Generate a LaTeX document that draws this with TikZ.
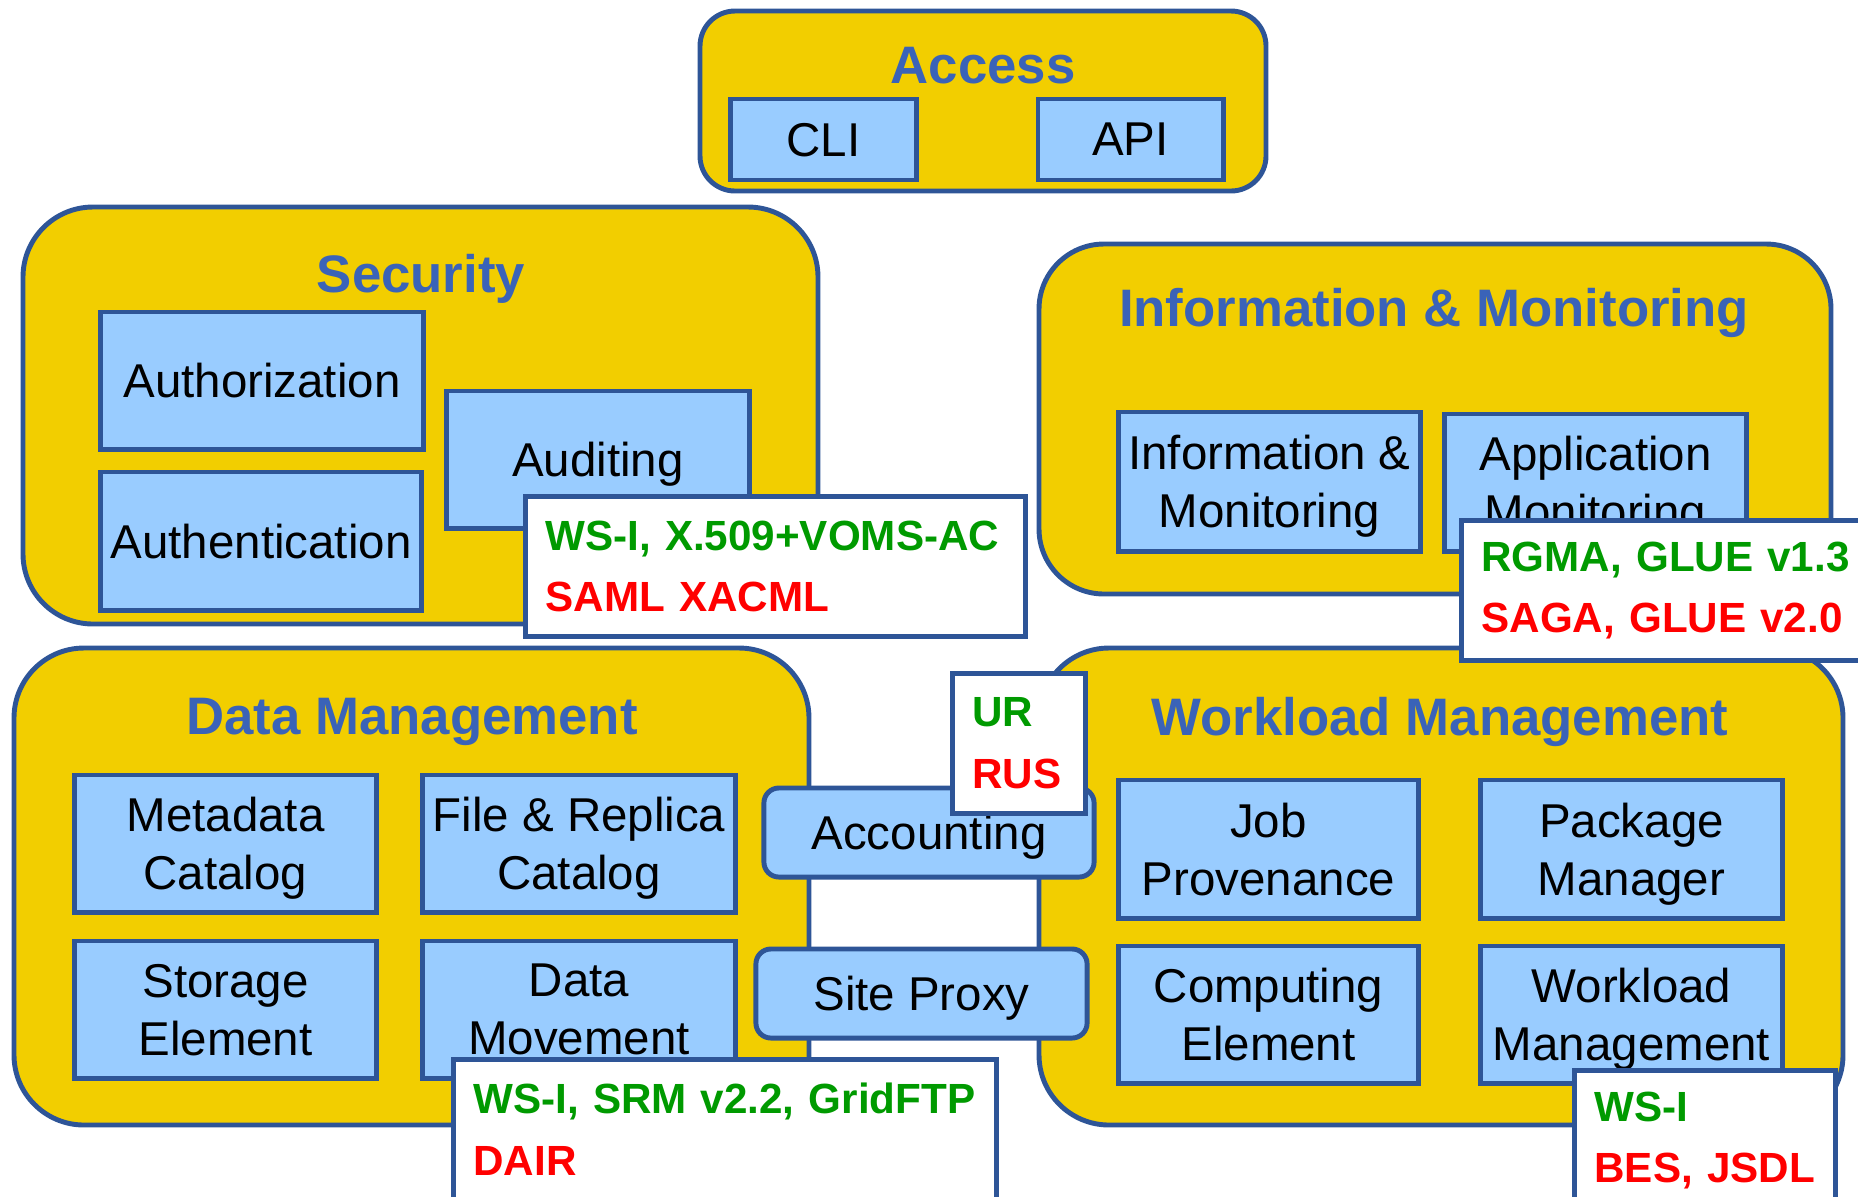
\documentclass[tikz,border=0pt]{standalone}
\usepackage{fontspec}
\setmainfont{Liberation Sans}

\definecolor{grpyellow}{RGB}{242,206,0}
\definecolor{edgeblue}{RGB}{46,85,151}
\definecolor{headblue}{RGB}{58,99,184}
\definecolor{boxblue}{RGB}{153,204,255}
\definecolor{stdgreen}{RGB}{0,154,0}
\definecolor{stdred}{RGB}{255,0,0}

\tikzset{
	group/.style={fill=grpyellow,draw=edgeblue,line width=1.4pt},
	grouptitle/.style={text=headblue,text depth=0pt,font=\bfseries\fontsize{15}{18}\selectfont},
	comp/.style={rectangle,fill=boxblue,draw=edgeblue,line width=1.4pt,inner sep=0pt,text depth=0pt,
		align=center,minimum width=3.01cm,minimum height=1.37cm,font=\fontsize{13.5}{16.5}\selectfont},
	pill/.style={comp,rounded corners=0.15cm,minimum width=3.3cm,minimum height=0.89cm},
	note/.style={rectangle,fill=white,draw=edgeblue,line width=1.4pt,anchor=north west,
		inner xsep=0.2cm,text width=#1,minimum height=1.4cm,align=left,font=\bfseries\fontsize{12}{17.6}\selectfont}
}

\begin{document}
\begin{tikzpicture}[x=0.01cm,y=-0.01cm]
	\path[use as bounding box] (0,0) rectangle (1858,1196);
	\clip (0,0) rectangle (1858,1196);

	% group frames
	\draw[group,rounded corners=0.35cm] (700,11) rectangle (1266,191);     % access
	\draw[group,rounded corners=0.7cm] (23,207) rectangle (818,624);       % security
	\draw[group,rounded corners=0.65cm] (1039,244) rectangle (1831,594);   % info & monitoring
	\draw[group,rounded corners=0.7cm] (14,648) rectangle (809,1125);      % data management
	\draw[group,rounded corners=0.7cm] (1039,648) rectangle (1843,1125);   % workload management

	% group titles
	\node[grouptitle] (accesstitle) at (983,65) {Access};
	\node[grouptitle] (sectitle) at (421,273) {Security};
	\node[grouptitle] (infotitle) at (1434,307) {Information \& Monitoring};
	\node[grouptitle] (datatitle) at (412,716) {Data Management};
	\node[grouptitle] (wmstitle) at (1440,716) {Workload Management};

	% access
	\node[comp,minimum width=1.85cm,minimum height=0.81cm] (cli) at (823.5,139.5) {CLI};
	\node[comp,minimum width=1.85cm,minimum height=0.81cm] (api) at (1130.5,139.5) {API};

	% security
	\node[comp,minimum width=3.22cm] (authz) at (262,380.5) {Authorization};
	\node[comp,minimum width=3.02cm] (audit) at (598,459.5) {Auditing};
	\node[comp,minimum width=3.2cm,minimum height=1.38cm] (authn) at (261,541) {Authentication};

	% information & monitoring
	\node[comp,minimum height=1.39cm] (infomon) at (1269.5,481.5) {Information \&\\Monitoring};
	\node[comp] (appmon) at (1595.5,482.5) {Application\\Monitoring};

	% data management
	\node[comp] (metacat) at (225.5,843.5) {Metadata\\Catalog};
	\node[comp,minimum width=3.12cm] (filecat) at (579,843.5) {File \& Replica\\Catalog};
	\node[comp] (storage) at (225.5,1009.5) {Storage\\Element};
	\node[comp,minimum width=3.12cm] (datamove) at (579,1009.5) {Data\\Movement};

	% workload management
	\node[comp,minimum width=2.99cm,minimum height=1.38cm] (jobprov) at (1268.5,849) {Job\\Provenance};
	\node[comp,minimum height=1.38cm] (pkgman) at (1631.5,849) {Package\\Manager};
	\node[comp,minimum width=2.99cm] (compel) at (1268.5,1014.5) {Computing\\Element};
	\node[comp] (wmsbox) at (1631.5,1014.5) {Workload\\Management};

	% shared services
	\node[pill] (account) at (929,832.5) {Accounting};
	\node[pill,minimum width=3.31cm] (siteproxy) at (921.5,993.5) {Site Proxy};

	% standards notes
	\node[note=4.6cm] (secnote) at (523,494) {\textcolor{stdgreen}{WS-I, X.509+VOMS-AC}\\\textcolor{stdred}{SAML XACML}};
	\node[note=3.8cm] (infonote) at (1459,518) {\textcolor{stdgreen}{RGMA, GLUE v1.3}\\\textcolor{stdred}{SAGA, GLUE v2.0}};
	\node[note=0.93cm] (accnote) at (950,671) {\textcolor{stdgreen}{UR}\\\textcolor{stdred}{RUS}};
	\node[note=5.03cm] (datanote) at (451,1057) {\textcolor{stdgreen}{WS-I, SRM v2.2, GridFTP}\\\textcolor{stdred}{DAIR}};
	\node[note=2.21cm] (wmsnote) at (1572,1068) {\textcolor{stdgreen}{WS-I}\\\textcolor{stdred}{BES, JSDL}};
\end{tikzpicture}
\end{document}
